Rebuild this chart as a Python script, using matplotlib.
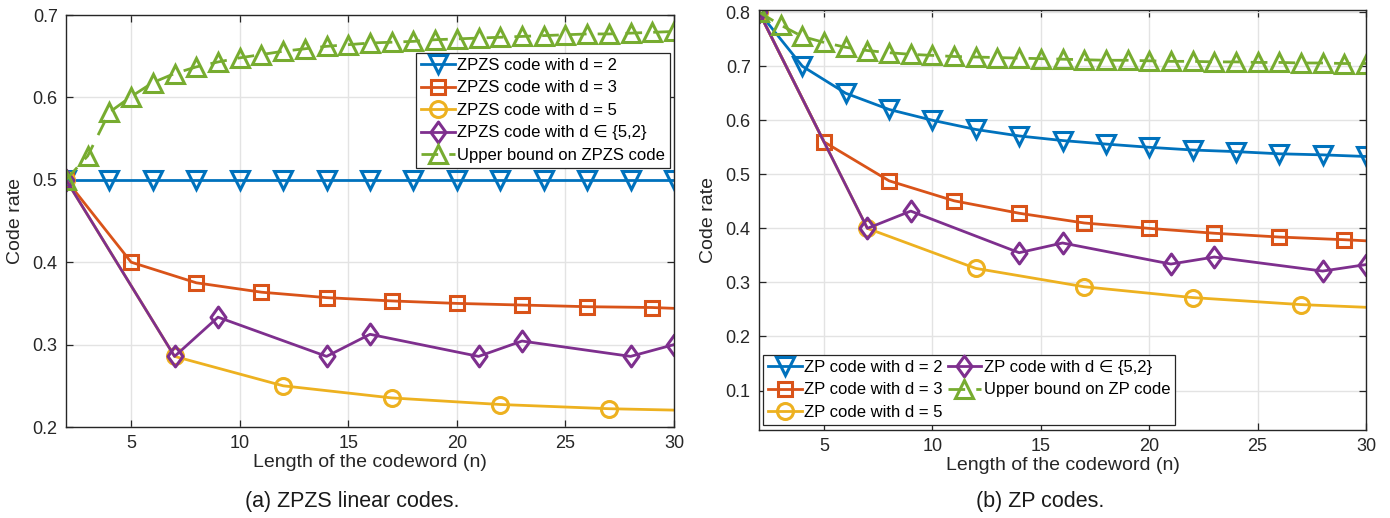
import matplotlib
matplotlib.use("Agg")
import matplotlib.pyplot as plt
from matplotlib.path import Path

plt.rcParams['font.family'] = ['Liberation Sans', 'DejaVu Sans']

# ---------------- data: (a) ZPZS linear codes ----------------
a_n_d2 = [2, 4, 6, 8, 10, 12, 14, 16, 18, 20, 22, 24, 26, 28, 30]
a_r_d2 = [0.5] * 15
a_n_d3 = [2, 5, 8, 11, 14, 17, 20, 23, 26, 29, 30]
a_r_d3 = [0.5, 0.4, 0.375, 0.3636, 0.357, 0.353, 0.35, 0.348, 0.346, 0.345, 0.344]
a_n_d5 = [2, 7, 12, 17, 22, 27, 30]
a_r_d5 = [0.5, 0.2857, 0.25, 0.2353, 0.2273, 0.2222, 0.2205]
a_n_d52 = [2, 7, 9, 14, 16, 21, 23, 28, 30]
a_r_d52 = [0.5, 0.2857, 0.3333, 0.2857, 0.3125, 0.2857, 0.3043, 0.2857, 0.3]
a_n_ub = list(range(2, 31))
a_r_ub = [0.500, 0.529, 0.582, 0.601, 0.618, 0.629, 0.637, 0.643, 0.648, 0.652,
          0.656, 0.659, 0.662, 0.664, 0.666, 0.667, 0.668, 0.670, 0.671, 0.672,
          0.673, 0.674, 0.675, 0.676, 0.677, 0.677, 0.678, 0.679, 0.680]

# ---------------- data: (b) ZP codes ----------------
b_n_d2 = [2, 4, 6, 8, 10, 12, 14, 16, 18, 20, 22, 24, 26, 28, 30]
b_r_d2 = [0.8, 0.7, 0.65, 0.62, 0.6, 0.583, 0.571, 0.5625, 0.556, 0.55,
          0.545, 0.542, 0.538, 0.536, 0.533]
b_n_d3 = [2, 5, 8, 11, 14, 17, 20, 23, 26, 29, 30]
b_r_d3 = [0.8, 0.56, 0.488, 0.451, 0.428, 0.41, 0.4, 0.391, 0.384, 0.379, 0.377]
b_n_d5 = [2, 7, 12, 17, 22, 27, 30]
b_r_d5 = [0.8, 0.4, 0.326, 0.292, 0.272, 0.259, 0.254]
b_n_d52 = [2, 7, 9, 14, 16, 21, 23, 28, 30]
b_r_d52 = [0.8, 0.4, 0.432, 0.355, 0.373, 0.334, 0.347, 0.321, 0.333]
b_n_ub = list(range(2, 31))
b_r_ub = [0.800, 0.776, 0.755, 0.744, 0.735, 0.729, 0.725, 0.722, 0.720, 0.718,
          0.717, 0.716, 0.715, 0.714, 0.713, 0.712, 0.711, 0.711, 0.710, 0.709,
          0.709, 0.708, 0.708, 0.707, 0.707, 0.706, 0.706, 0.705, 0.705]

labels_a = ["ZPZS code with d = 2", "ZPZS code with d = 3", "ZPZS code with d = 5",
            "ZPZS code with d \u2208 {5,2}", "Upper bound on ZPZS code"]
labels_b = ["ZP code with d = 2", "ZP code with d = 3", "ZP code with d = 5",
            "ZP code with d \u2208 {5,2}", "Upper bound on ZP code"]

# MATLAB-like diamond (taller than wide)
diamond = Path([(0, 1), (0.72, 0), (0, -1), (-0.72, 0), (0, 1)],
               [Path.MOVETO, Path.LINETO, Path.LINETO, Path.LINETO, Path.CLOSEPOLY])

colors = ['#0072BD', '#D95319', '#EDB120', '#7E2F8E', '#77AC30']
markers = ['v', 's', 'o', diamond, '^']
msizes = [12.5, 9.5, 11.5, 15, 13.5]
styles = ['-', '-', '-', '-', '--']

fig = plt.figure(figsize=(13.9, 5.18), dpi=100)
ax1 = fig.add_axes([66/1390, 1-427/518, (674-66)/1390, (427-15)/518])
ax2 = fig.add_axes([759/1390, 1-430/518, (1366-759)/1390, (430-10)/518])

def draw(ax, series, labels):
    for i, (xs, ys) in enumerate(series):
        # the final point of the d=3 and d=5 curves is a line end without a marker
        mk = list(range(len(xs) - 1)) if i in (1, 2) else None
        kw = dict(dashes=(6, 4)) if styles[i] == '--' else {}
        ax.plot(xs, ys, linestyle=styles[i], color=colors[i], lw=2.0,
                marker=markers[i], ms=msizes[i], mfc='none', mew=2.2,
                mec=colors[i], label=labels[i], markevery=mk, **kw)
    ax.set_xlim(2, 30)
    ax.set_xticks([5, 10, 15, 20, 25, 30])
    ax.grid(True, color='#e3e3e3', lw=1.0)
    ax.set_axisbelow(True)
    for s in ax.spines.values():
        s.set_color('#262626')
        s.set_linewidth(1.0)
    ax.tick_params(direction='in', top=True, right=True, length=5, width=0.9,
                   color='#262626', labelsize=13, labelcolor='#262626', pad=6)
    ax.set_xlabel("Length of the codeword (n)", fontsize=14, color='#262626', labelpad=1)
    ax.set_ylabel("Code rate", fontsize=14, color='#262626', labelpad=6)

draw(ax1, [(a_n_d2, a_r_d2), (a_n_d3, a_r_d3), (a_n_d5, a_r_d5),
           (a_n_d52, a_r_d52), (a_n_ub, a_r_ub)], labels_a)
ax1.set_ylim(0.2, 0.7)
ax1.set_yticks([0.2, 0.3, 0.4, 0.5, 0.6, 0.7])
ax1.set_yticklabels(['0.2', '0.3', '0.4', '0.5', '0.6', '0.7'])
leg1 = ax1.legend(loc='upper right', bbox_to_anchor=(0.9935, 0.908), fontsize=12,
                  handlelength=2.0, handletextpad=0.15, borderpad=0.3,
                  labelspacing=0.45, borderaxespad=0.0, fancybox=False,
                  framealpha=1, edgecolor='#262626')
leg1.get_frame().set_linewidth(0.9)

draw(ax2, [(b_n_d2, b_r_d2), (b_n_d3, b_r_d3), (b_n_d5, b_r_d5),
           (b_n_d52, b_r_d52), (b_n_ub, b_r_ub)], labels_b)
ax2.set_ylim(0.027, 0.804)
ax2.set_yticks([0.1, 0.2, 0.3, 0.4, 0.5, 0.6, 0.7, 0.8])
ax2.set_yticklabels(['0.1', '0.2', '0.3', '0.4', '0.5', '0.6', '0.7', '0.8'])
leg2 = ax2.legend(loc='lower left', bbox_to_anchor=(0.007, 0.012), ncol=2, fontsize=12,
                  handlelength=2.0, handletextpad=0.15, borderpad=0.3,
                  labelspacing=0.45, columnspacing=0.3, borderaxespad=0.0,
                  fancybox=False, framealpha=1, edgecolor='#262626')
leg2.get_frame().set_linewidth(0.9)

fig.text(352/1390, 1-501/518, "(a) ZPZS linear codes.", ha='center', va='center',
         fontsize=15.5, color='#1a1a1a')
fig.text(1040/1390, 1-501/518, "(b) ZP codes.", ha='center', va='center',
         fontsize=15.5, color='#1a1a1a')

fig.savefig("out.png", dpi=100)
